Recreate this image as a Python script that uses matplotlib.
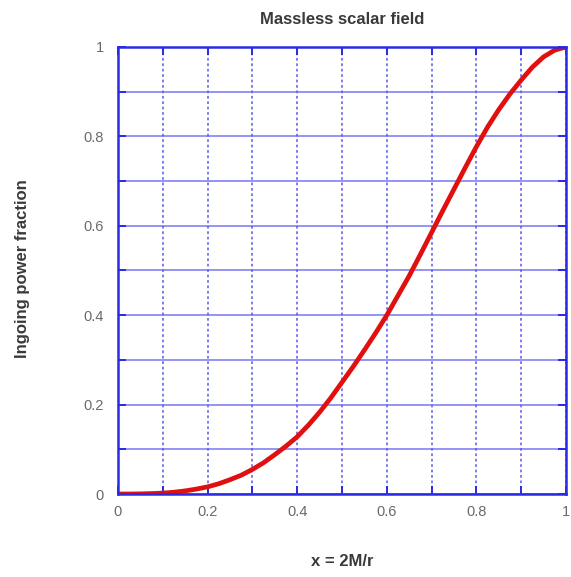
import numpy as np
import matplotlib
matplotlib.use("Agg")
import matplotlib.pyplot as plt

plt.rcParams["font.family"] = ["Liberation Sans", "DejaVu Sans"]

# ingoing power fraction
x_vals = [0.0, 0.025, 0.05, 0.075, 0.1, 0.125, 0.15, 0.175, 0.2, 0.225, 0.25,
          0.275, 0.3, 0.325, 0.35, 0.375, 0.4, 0.425, 0.45, 0.475, 0.5,
          0.525, 0.55, 0.575, 0.6, 0.625, 0.65, 0.675, 0.7, 0.725, 0.75,
          0.775, 0.8, 0.825, 0.85, 0.875, 0.9, 0.925, 0.95, 0.975, 1.0]
frac = [0.0, 0.0, 0.0003, 0.001, 0.002, 0.004, 0.007, 0.011, 0.016, 0.023, 0.032,
        0.042, 0.055, 0.070, 0.088, 0.107, 0.128, 0.154, 0.183, 0.215, 0.25,
        0.285, 0.322, 0.360, 0.40, 0.444, 0.488, 0.536, 0.585, 0.634, 0.682,
        0.730, 0.777, 0.821, 0.860, 0.895, 0.926, 0.955, 0.978, 0.993, 1.0]
ticks = [0, 0.2, 0.4, 0.6, 0.8, 1]
tick_labels = ["0", "0.2", "0.4", "0.6", "0.8", "1"]

W, H = 571, 577
fig = plt.figure(figsize=(W / 100, H / 100), dpi=100)
ax = fig.add_axes([118 / W, 1 - 494 / H, 448 / W, 447 / H])

blue = "#2a2ae6"
grid_blue = "#5a5af0"
txt = "#3a3a3a"

ax.plot(x_vals, frac, color="#e01010", lw=3.4, solid_capstyle="round",
        solid_joinstyle="round", zorder=3)

ax.set_xlim(0, 1)
ax.set_ylim(0, 1)
ax.set_xticks(ticks)
ax.set_xticklabels(tick_labels)
ax.set_yticks(ticks)
ax.set_yticklabels(tick_labels)
ax.set_xticks(np.arange(0.1, 1.0, 0.2), minor=True)
ax.set_yticks(np.arange(0.1, 1.0, 0.2), minor=True)

ax.grid(True, which="both", axis="x", color=grid_blue, lw=1.3, ls=(0, (1.5, 1.5)), alpha=0.85)
ax.grid(True, which="both", axis="y", color=grid_blue, lw=1.3, ls="-", alpha=0.7)

for s in ax.spines.values():
    s.set_color(blue)
    s.set_linewidth(1.8)
    s.set_zorder(4)

ax.tick_params(which="both", direction="in", color=blue, top=True, right=True,
               length=6, width=1.4, labelcolor="#6a6a6a", labelsize=10.5)
ax.tick_params(which="minor", labelbottom=False, labelleft=False)
ax.tick_params(axis="x", pad=8)
ax.tick_params(axis="y", pad=10)

fig.text(342 / W, 1 - 20 / H, "Massless scalar field", ha="center", va="center",
         fontsize=12, fontweight="bold", color=txt)
fig.text(342 / W, 1 - 562 / H, "x = 2M/r", ha="center", va="center",
         fontsize=12, fontweight="bold", color=txt)
fig.text(23 / W, 1 - 269 / H, "Ingoing power fraction", ha="center", va="center",
         rotation=90, fontsize=12, fontweight="bold", color=txt)

fig.savefig("out.png", dpi=100)
